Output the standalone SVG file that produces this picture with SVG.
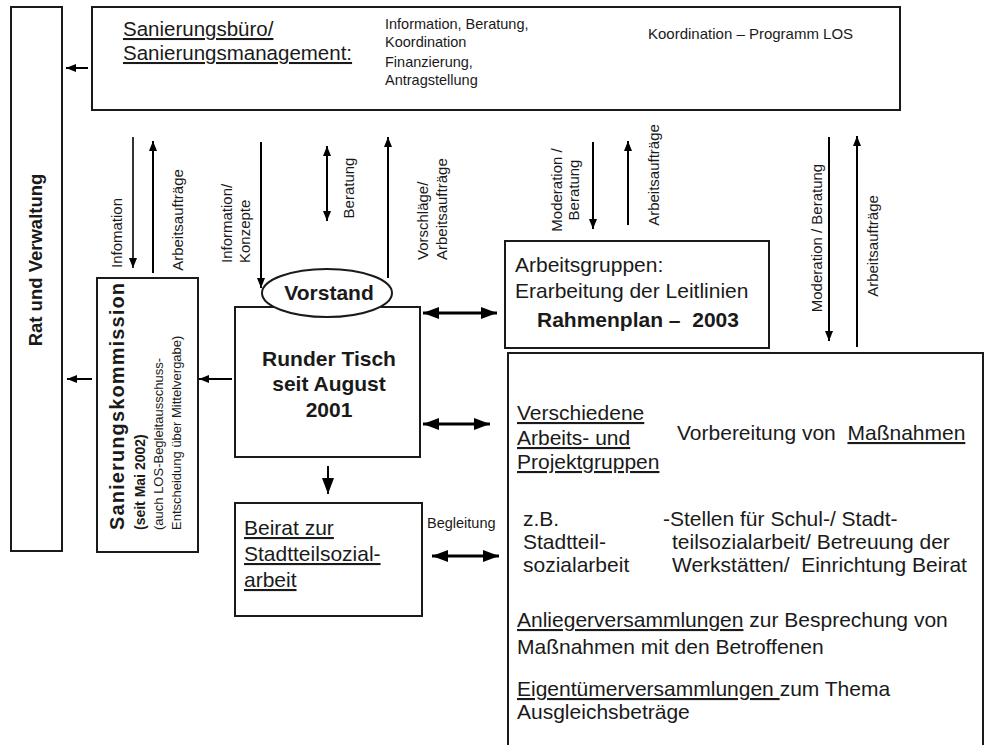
<svg xmlns="http://www.w3.org/2000/svg" width="991" height="745" viewBox="0 0 991 745">
<style>
text { font-family: "Liberation Sans", Arial, sans-serif; fill: #1a1a1a; }
.box { fill: #fff; stroke: #1a1a1a; stroke-width: 2; }
.big { font-size: 21px; }
.b { font-weight: bold; }
.sm { font-size: 14.5px; }
.u { text-decoration: underline; }
.conn line { stroke: #000; stroke-width: 2; fill: none; }
.conn line.thin { stroke-width: 1.6; }
.conn line.thick { stroke-width: 3; }
</style>
<defs>
<marker id="ah" viewBox="0 0 10 8" refX="10" refY="4" markerWidth="10" markerHeight="8" markerUnits="userSpaceOnUse" orient="auto-start-reverse"><path d="M0,0 L10,4 L0,8 z" fill="#000"/></marker>
<marker id="ahL" viewBox="0 0 16 12" refX="16" refY="6" markerWidth="16" markerHeight="12" markerUnits="userSpaceOnUse" orient="auto-start-reverse"><path d="M0,0 L16,6 L0,12 z" fill="#000"/></marker>
</defs>
<rect width="991" height="745" fill="#fff"/>

<g id="rat-verwaltung">
<rect class="box" x="11" y="7" width="51" height="544" stroke-width="1.5"/>
<text class="b" font-size="18.5" transform="translate(36,260) rotate(-90)" text-anchor="middle" dy="0.35em">Rat und Verwaltung</text>
</g>

<g id="sanierungsbuero">
<rect class="box" x="92" y="7" width="808" height="103" stroke-width="2.5"/>
<text font-size="20.5" x="123" y="36" class="u">Sanierungsbüro/</text>
<text font-size="20.5" x="123" y="60" class="u">Sanierungsmanagement:</text>
<text class="sm" x="385" y="29">Information, Beratung,</text>
<text class="sm" x="385" y="47">Koordination</text>
<text class="sm" x="385" y="67">Finanzierung,</text>
<text class="sm" x="385" y="85">Antragstellung</text>
<text font-size="15" x="648" y="39">Koordination – Programm LOS</text>
</g>

<g id="sanierungskommission">
<rect class="box" x="97" y="278" width="101" height="274" stroke-width="1.5"/>
<text class="b" font-size="20" transform="translate(117,530) rotate(-90)" dy="0.35em" textLength="247" lengthAdjust="spacing">Sanierungskommission</text>
<text class="b" font-size="14" transform="translate(140,530) rotate(-90)" dy="0.35em">(seit Mai  2002)</text>
<text font-size="13" transform="translate(158,530) rotate(-90)" dy="0.35em">(auch LOS-Begleitausschuss-</text>
<text font-size="13" transform="translate(176,530) rotate(-90)" dy="0.35em">Entscheidung über Mittelvergabe)</text>
</g>

<g id="runder-tisch">
<rect class="box" x="235" y="307" width="185" height="150"/>
<text class="big b" x="329" y="366" text-anchor="middle">Runder Tisch</text>
<text class="big b" x="329" y="391" text-anchor="middle">seit August</text>
<text class="big b" x="329" y="417" text-anchor="middle">2001</text>
</g>

<g id="vorstand">
<ellipse cx="327" cy="293" rx="65" ry="24" fill="#fff" stroke="#1a1a1a" stroke-width="2"/>
<text class="big b" x="329" y="300" text-anchor="middle">Vorstand</text>
</g>

<g id="arbeitsgruppen">
<rect class="box" x="505" y="241" width="264" height="107"/>
<text class="big" x="515" y="272">Arbeitsgruppen:</text>
<text class="big" x="515" y="298">Erarbeitung der Leitlinien</text>
<text class="big b" x="537" y="327" xml:space="preserve">Rahmenplan –  2003</text>
</g>

<g id="projektgruppen">
<rect class="box" x="508" y="353" width="475" height="410"/>
<text class="big u" x="517" y="420">Verschiedene</text>
<text class="big u" x="517" y="445">Arbeits- und</text>
<text class="big u" x="517" y="469">Projektgruppen</text>
<text class="big" x="677" y="440" xml:space="preserve">Vorbereitung von  <tspan class="u">Maßnahmen</tspan></text>
<text class="big" x="523" y="526">z.B.</text>
<text class="big" x="523" y="549">Stadtteil-</text>
<text class="big" x="523" y="572">sozialarbeit</text>
<text class="big" x="663" y="526">-Stellen für Schul-/ Stadt-</text>
<text class="big" x="672" y="549">teilsozialarbeit/ Betreuung der</text>
<text class="big" x="672" y="572" xml:space="preserve">Werkstätten/  Einrichtung Beirat</text>
<text class="big" x="517" y="627"><tspan class="u">Anliegerversammlungen</tspan> zur Besprechung von</text>
<text class="big" x="517" y="654">Maßnahmen mit den Betroffenen</text>
<text class="big" x="517" y="696" xml:space="preserve"><tspan class="u">Eigentümerversammlungen </tspan>zum Thema</text>
<text class="big" x="517" y="719">Ausgleichsbeträge</text>
</g>

<g id="beirat">
<rect class="box" x="235" y="503" width="187" height="113"/>
<text class="big u" x="244" y="535">Beirat zur</text>
<text class="big u" x="244" y="561">Stadtteilsozial-</text>
<text class="big u" x="244" y="587">arbeit</text>
</g>

<g id="connectors" class="conn">
<line x1="88" y1="68" x2="66" y2="68" marker-end="url(#ah)"/>
<line x1="92" y1="379" x2="67" y2="379" marker-end="url(#ah)"/>
<line x1="232" y1="379" x2="199" y2="379" marker-end="url(#ah)"/>
<line class="thin" x1="133" y1="137" x2="133" y2="268" marker-end="url(#ah)"/>
<line x1="153" y1="273" x2="153" y2="141" marker-end="url(#ah)"/>
<line x1="261" y1="142" x2="261" y2="288" marker-end="url(#ah)"/>
<line x1="327" y1="146" x2="327" y2="221" marker-start="url(#ah)" marker-end="url(#ah)"/>
<line x1="388" y1="278" x2="388" y2="137" marker-end="url(#ah)"/>
<line x1="593" y1="142" x2="593" y2="229" marker-end="url(#ah)"/>
<line x1="628" y1="225" x2="628" y2="141" marker-end="url(#ah)"/>
<line x1="829" y1="137" x2="829" y2="341" marker-end="url(#ah)"/>
<line x1="857" y1="347" x2="857" y2="136" marker-end="url(#ah)"/>
<line class="thick" x1="423" y1="313" x2="497" y2="313" marker-start="url(#ahL)" marker-end="url(#ahL)"/>
<line class="thick" x1="423" y1="424" x2="490" y2="424" marker-start="url(#ahL)" marker-end="url(#ahL)"/>
<line x1="328" y1="466" x2="328" y2="494" marker-end="url(#ahL)"/>
<line class="thick" x1="432" y1="556" x2="499" y2="556" marker-start="url(#ahL)" marker-end="url(#ahL)"/>
</g>

<g id="labels">
<text font-size="15" transform="translate(117,233) rotate(-90)" text-anchor="middle" dy="0.35em">Infomation</text>
<text font-size="15" transform="translate(178,220) rotate(-90)" text-anchor="middle" dy="0.35em">Arbeitsaufträge</text>
<text font-size="15" transform="translate(227,263) rotate(-90)" dy="0.35em">Information/</text>
<text font-size="15" transform="translate(245,263) rotate(-90)" dy="0.35em">Konzepte</text>
<text font-size="15" transform="translate(349,188) rotate(-90)" text-anchor="middle" dy="0.35em">Beratung</text>
<text font-size="15" transform="translate(423,260) rotate(-90)" dy="0.35em">Vorschläge/</text>
<text font-size="15" transform="translate(442,260) rotate(-90)" dy="0.35em">Arbeitsaufträge</text>
<text font-size="15" transform="translate(557,190) rotate(-90)" text-anchor="middle" dy="0.35em">Moderation /</text>
<text font-size="15" transform="translate(574,190) rotate(-90)" text-anchor="middle" dy="0.35em">Beratung</text>
<text font-size="15" transform="translate(654,175) rotate(-90)" text-anchor="middle" dy="0.35em">Arbeitsaufträge</text>
<text font-size="15" transform="translate(817,238) rotate(-90)" text-anchor="middle" dy="0.35em">Moderation / Beratung</text>
<text font-size="15" transform="translate(873,246) rotate(-90)" text-anchor="middle" dy="0.35em">Arbeitsaufträge</text>
<text font-size="14.5" x="427" y="528">Begleitung</text>
</g>
</svg>
